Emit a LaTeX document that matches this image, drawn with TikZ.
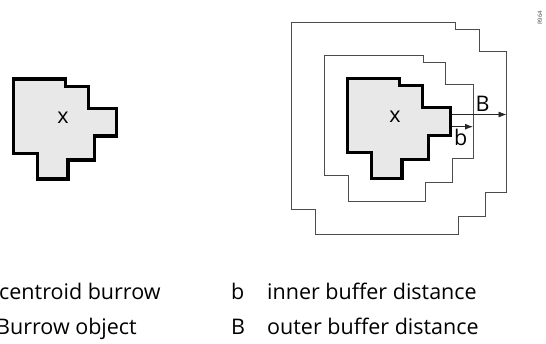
\documentclass[tikz,border=0pt]{standalone}
\usepackage{fontspec}
\setmainfont{Open Sans}
\usetikzlibrary{arrows.meta}
\begin{document}
\begin{tikzpicture}[x=1pt,y=-1pt,
  burrow/.style={draw=black,line width=3.2pt,fill=black!9,line join=miter},
  buffer/.style={draw=black!70,line width=0.9pt},
  dimarrow/.style={draw=black!85,line width=0.8pt,-{Latex[length=8pt,width=6pt]}},
  lbl/.style={font=\fontsize{21.5}{25}\selectfont,inner sep=0pt},
  legend/.style={font=\fontsize{21.5}{25}\selectfont,inner sep=0pt,anchor=base west},
  idtag/.style={font=\fontsize{6}{7}\selectfont,inner sep=0pt,rotate=90,text=black!70}]
\useasboundingbox (0,0) rectangle (546,344);
\clip (0,0) rectangle (546,344);
\def\burrowpath{(0,0) -- (52,0) -- (52,7.5) -- (75,7.5) -- (75,29.5) -- (103,29.5) -- (103,57) -- (81,57) -- (81,81) -- (54.5,81) -- (54.5,100) -- (24,100) -- (24,74.5) -- (0,74.5) -- cycle}
% left burrow
\begin{scope}[shift={(13.5,79)}]
  \path[burrow] \burrowpath;
\end{scope}
\node[lbl] (xl) at (63,118) {x};
% outer buffer
\draw[buffer] (291.5,22) -- (455.7,22) -- (455.7,29.7) -- (479,29.7) -- (479,51.7) -- (506.5,51.7) -- (506.5,192.3) -- (485.7,192.3) -- (485.7,216.5) -- (458,216.5) -- (458,234.5) -- (315,234.5) -- (315,209.2) -- (291.5,209.2) -- cycle;
% inner buffer
\draw[buffer] (324,55) -- (423.3,55) -- (423.3,62.5) -- (445.7,62.5) -- (445.7,84) -- (473,84) -- (473,158) -- (452.7,158) -- (452.7,182.5) -- (425.7,182.5) -- (425.7,201.5) -- (348,201.5) -- (348,175.7) -- (324,175.7) -- cycle;
% right burrow
\begin{scope}[shift={(347.5,78.3)}]
  \path[burrow] \burrowpath;
\end{scope}
\node[lbl] (xr) at (395,117) {x};
% arrows
\coordinate (Bs) at (451.5,114.5);
\coordinate (Be) at (506.5,114.5);
\coordinate (bs) at (451.5,126.7);
\coordinate (be) at (473,126.7);
\draw[dimarrow] (Bs) -- (Be);
\draw[dimarrow] (bs) -- (be);
\node[lbl] (Bl) at (482.7,104) {B};
\node[lbl] (bl) at (460.7,137) {b};
% id tag
\node[idtag] (tag) at (540,18) {R964};
% legend
\node[legend] (l1) at (-1,300) {centroid burrow};
\node[legend] (l2) at (-4,335) {Burrow object};
\node[legend] (k1) at (231,300) {b};
\node[legend] (k2) at (231,335) {B};
\node[legend] (t1) at (267,300) {inner buffer distance};
\node[legend] (t2) at (267,335) {outer buffer distance};
\end{tikzpicture}
\end{document}
